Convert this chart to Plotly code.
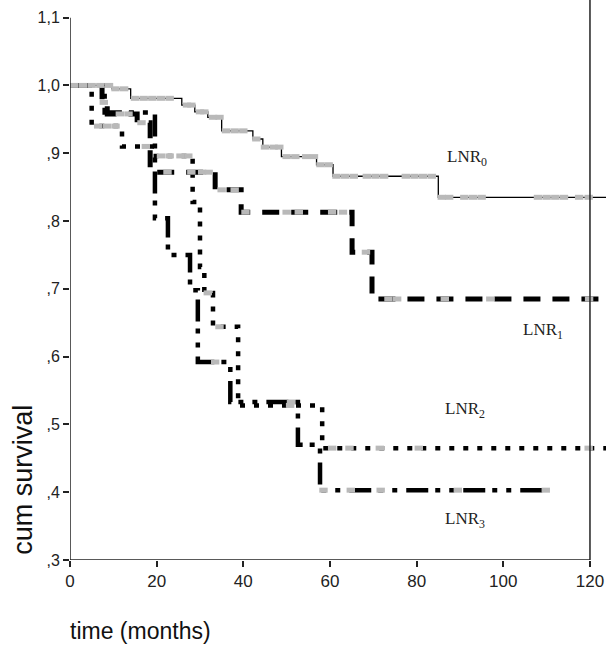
import plotly.graph_objects as go

# Kaplan-Meier step data (months, cumulative survival) per lymph node ratio group
lnr0_t = [0, 9.7, 14, 25.8, 28.8, 31.8, 35, 42.2, 44.5, 48.8, 56.9, 60.7, 85, 124]
lnr0_s = [1.0, 0.995, 0.981, 0.971, 0.961, 0.953, 0.933, 0.921, 0.909, 0.895, 0.883, 0.866, 0.835, 0.835]

lnr1_t = [0, 7.4, 8.6, 15.5, 18.5, 33.5, 39.5, 65.1, 69.7, 124]
lnr1_s = [1.0, 0.975, 0.958, 0.945, 0.872, 0.846, 0.813, 0.754, 0.685, 0.685]

lnr2_t = [0, 5.0, 12.0, 19.8, 28.3, 30.0, 31.0, 33.0, 38.8, 58.2, 124]
lnr2_s = [1.0, 0.94, 0.91, 0.896, 0.828, 0.732, 0.694, 0.644, 0.528, 0.465, 0.465]

lnr3_t = [0, 8.0, 19.6, 22.6, 27.7, 29.5, 37.0, 52.6, 57.7, 110.3]
lnr3_s = [1.0, 0.96, 0.804, 0.75, 0.698, 0.592, 0.533, 0.47, 0.403, 0.403]

# censored observations (months)
lnr0_cens = [1, 3, 5, 7, 9, 10.5, 12.5, 15, 17, 19, 21, 23, 27, 28, 30, 31, 33, 34.5,
             36, 38, 40, 43, 45, 47, 48.3, 50, 52, 54.5, 56.3, 57.8, 59.7, 61.5, 63.5,
             65.5, 68.5, 70.5, 72.5, 77.5, 79.5, 81.5, 83.5, 85.8, 87.5, 91, 93, 95,
             108, 110, 112, 114, 117.5, 119.7]
lnr1_cens = [7.8, 11.5, 13.5, 16.5, 22.5, 28, 30.5, 32, 35, 38, 40.5, 50, 52.8, 60.5,
             63, 68.3, 73.5, 75.5, 86.5, 97, 119.8]
lnr2_cens = [6.5, 8.5, 10.5, 17.5, 21, 23, 25.5, 27.3, 31.8, 34.5, 50.8, 60.5, 64.5,
             71.5, 80.5, 119.7]
lnr3_cens = [33.5, 51, 58.5, 64.8, 71.7, 89.5, 109.8]

y_ticks = [0.3, 0.4, 0.5, 0.6, 0.7, 0.8, 0.9, 1.0, 1.1]
y_tick_text = [",3", ",4", ",5", ",6", ",7", ",8", ",9", "1,0", "1,1"]
x_ticks = [0, 20, 40, 60, 80, 100, 120]

group_labels = ["LNR<sub>0</sub>", "LNR<sub>1</sub>", "LNR<sub>2</sub>", "LNR<sub>3</sub>"]
label_pos = [(86.5, 0.893), (104.0, 0.638), (86.0, 0.521), (86.0, 0.359)]

Y_MAX = 1.126


def surv_at(times, surv, t):
    """Survival value of a right-continuous step function at time t."""
    val = surv[0]
    for ti, si in zip(times, surv):
        if ti <= t:
            val = si
        else:
            break
    return val


GRAY = "#b9b9b9"
fig = go.Figure()

curves = [
    (lnr0_t, lnr0_s, lnr0_cens, dict(color="black", width=1.3)),
    (lnr1_t, lnr1_s, lnr1_cens, dict(color="black", width=5, dash="17px,12px")),
    (lnr2_t, lnr2_s, lnr2_cens, dict(color="black", width=4.5, dash="5px,9px")),
    (lnr3_t, lnr3_s, lnr3_cens, dict(color="black", width=4.5,
                                      dash="22px,7px,5px,9px,5px,9px")),
]

for t, s, cens, line in curves:
    fig.add_trace(go.Scatter(x=t, y=s, mode="lines", line_shape="hv",
                             line=line, showlegend=False, hoverinfo="skip"))

for t, s, cens, line in curves:
    fig.add_trace(go.Scatter(
        x=cens, y=[surv_at(t, s, c) for c in cens], mode="markers",
        marker=dict(symbol="line-ew", size=6, color=GRAY,
                    line=dict(color=GRAY, width=5)),
        showlegend=False, hoverinfo="skip"))

for text, (lx, ly) in zip(group_labels, label_pos):
    fig.add_annotation(x=lx, y=ly, text=text, showarrow=False, xanchor="left",
                       yanchor="middle",
                       font=dict(family="Liberation Serif", size=17, color="#222"))

# axis frame: left axis up to 1,1, bottom axis and right border at 120 months
fig.add_shape(type="line", x0=0, x1=0, y0=0.3, y1=1.1, xref="x", yref="y",
              line=dict(color="#222", width=1.5))
fig.add_shape(type="line", x0=0, x1=120, y0=0.3, y1=0.3, xref="x", yref="y",
              line=dict(color="#222", width=1.5))
fig.add_shape(type="line", x0=120, x1=120, y0=0.3, y1=Y_MAX, xref="x", yref="y",
              line=dict(color="#222", width=1.5))

fig.add_annotation(text="cum survival", textangle=-90, xref="paper", yref="paper",
                   x=-0.088, y=0.143, showarrow=False, xanchor="center", yanchor="middle",
                   font=dict(family="Liberation Sans", size=27, color="#111"))
fig.add_annotation(text="time (months)", xref="paper", yref="paper",
                   x=-0.004, y=-0.127, showarrow=False, xanchor="left", yanchor="middle",
                   font=dict(family="Liberation Sans", size=23, color="#111"))

fig.update_layout(
    width=606, height=648,
    margin=dict(l=70, r=0, t=0, b=88),
    paper_bgcolor="white", plot_bgcolor="white",
    xaxis=dict(range=[0, 123.7], tickvals=x_ticks, ticks="outside", ticklen=6,
               tickwidth=1.5, tickcolor="#222", showgrid=False, zeroline=False,
               showline=False,
               tickfont=dict(family="Liberation Sans", size=17, color="#222")),
    yaxis=dict(range=[0.3, Y_MAX], tickvals=y_ticks, ticktext=y_tick_text,
               ticks="outside", ticklen=6, tickwidth=1.5, tickcolor="#222",
               showgrid=False, zeroline=False, showline=False,
               tickfont=dict(family="Liberation Sans", size=16, color="#222")),
)

fig.write_html("out.html")
